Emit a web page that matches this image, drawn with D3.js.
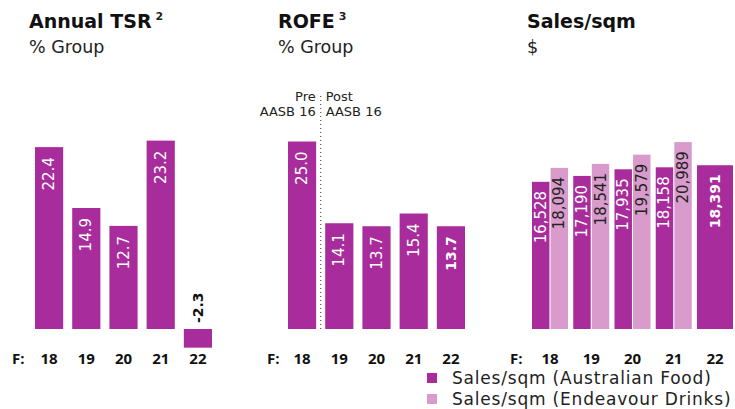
<!DOCTYPE html>
<meta charset="utf-8">
<script src="https://d3js.org/d3.v7.min.js"></script>
<style>
  body { margin: 0; background: #fff; }
  text { font-family: "DejaVu Sans", sans-serif; }
  text.tick-label { font-family: "Open Sans", sans-serif; }
</style>
<div id="chart"></div>
<script>
    const years = ["18", "19", "20", "21", "22"];
    const tsr = [22.4, 14.9, 12.7, 23.2, -2.3];
    const rofe = [25.0, 14.1, 13.7, 15.4, 13.7];
    const salesFood = [16528, 17190, 17935, 18158, 18391];
    const salesDrinks = [18094, 18541, 19579, 20989, null];
    const legendLabels = ["Sales/sqm (Australian Food)", "Sales/sqm (Endeavour Drinks)"];

    const dark = "#a82c9b", light = "#d89bcb";
    const width = 735, height = 409, base = 329;

    const svg = d3.select("#chart")
        .append("svg")
            .attr("width", width)
            .attr("height", height);

    // titles
    function title(x, main, sup, sub) {
        const t = svg.append("text")
            .attr("x", x).attr("y", 28)
            .attr("font-size", 19).attr("font-weight", 700).attr("fill", "#111")
            .text(main);
        if (sup) {
            const w = t.node().getComputedTextLength();
            svg.append("text")
                .attr("x", x + w + 4).attr("y", 20)
                .attr("font-size", 11).attr("font-weight", 700).attr("fill", "#222")
                .text(sup);
        }
        svg.append("text")
            .attr("x", x).attr("y", 53)
            .attr("font-size", 17.5).attr("fill", "#222")
            .text(sub);
    }
    title(29, "Annual TSR", "2", "% Group");
    title(278, "ROFE", "3", "% Group");
    title(527, "Sales/sqm", null, "$");

    function xAxis(x, fx) {
        const g = svg.append("g")
            .attr("transform", `translate(0,${359})`)
            .call(d3.axisBottom(x).tickSize(0).tickPadding(0));
        g.select(".domain").remove();
        g.selectAll("text")
            .attr("class", "tick-label")
            .attr("font-size", 15).attr("font-weight", 700).attr("fill", "#111")
            .attr("dy", "0.3em");
        svg.append("text")
            .attr("class", "tick-label")
            .attr("x", fx).attr("y", 359).attr("dy", "0.3em")
            .attr("font-size", 15).attr("font-weight", 700).attr("fill", "#111")
            .text("F:");
    }

    function rotLabel(cx, y, txt, opts) {
        svg.append("text")
            .attr("transform", `translate(${cx},${y}) rotate(-90)`)
            .attr("text-anchor", opts.anchor || "end")
            .attr("dominant-baseline", "central")
            .attr("font-size", opts.size || 15)
            .attr("font-weight", opts.bold ? 700 : 400)
            .attr("fill", opts.color || "#fff")
            .text(txt);
    }

    // panel 1: Annual TSR
    const x1 = d3.scaleBand().domain(years).range([35, 212]).paddingInner(0.243).paddingOuter(0);
    const y1 = d3.scaleLinear().domain([0, 25]).range([base, base - 25 * 8.12]);
    svg.append("g").selectAll("rect")
        .data(tsr)
        .join("rect")
            .attr("x", (d, i) => x1(years[i]))
            .attr("y", d => Math.min(y1(d), y1(0)))
            .attr("width", x1.bandwidth())
            .attr("height", d => Math.abs(y1(d) - y1(0)))
            .attr("fill", dark);
    tsr.forEach((d, i) => {
        const cx = x1(years[i]) + x1.bandwidth() / 2;
        if (d >= 0) rotLabel(cx, y1(d) + 10, d3.format(".1f")(d), {});
        else rotLabel(cx, y1(0) - 6, String(d), {anchor: "start", bold: true, color: "#111", size: 14});
    });
    xAxis(x1, 12);

    // panel 2: ROFE
    const x2 = d3.scaleBand().domain(years).range([288, 465]).paddingInner(0.243).paddingOuter(0);
    const y2 = d3.scaleLinear().domain([0, 25]).range([base, base - 25 * 7.5]);
    svg.append("g").selectAll("rect")
        .data(rofe)
        .join("rect")
            .attr("x", (d, i) => x2(years[i]))
            .attr("y", d => y2(d))
            .attr("width", x2.bandwidth())
            .attr("height", d => y2(0) - y2(d))
            .attr("fill", dark);
    rofe.forEach((d, i) => {
        const cx = x2(years[i]) + x2.bandwidth() / 2;
        const last = i === rofe.length - 1;
        rotLabel(cx, y2(d) + 10, d3.format(".1f")(d), {bold: last, size: last ? 14 : 15});
    });
    const sep = (x2(years[0]) + x2.bandwidth() + x2(years[1])) / 2;
    svg.append("line")
        .attr("x1", sep).attr("x2", sep)
        .attr("y1", 96).attr("y2", base)
        .attr("stroke", "#555").attr("stroke-width", 1.2)
        .attr("stroke-dasharray", "1,3");
    [["Pre", 101], ["AASB 16", 116]].forEach(([t, y]) => {
        svg.append("text").attr("x", sep - 5).attr("y", y)
            .attr("text-anchor", "end").attr("font-size", 13).attr("fill", "#222").text(t);
    });
    [["Post", 101], ["AASB 16", 116]].forEach(([t, y]) => {
        svg.append("text").attr("x", sep + 5).attr("y", y)
            .attr("font-size", 13).attr("fill", "#222").text(t);
    });
    xAxis(x2, 267);

    // panel 3: Sales/sqm
    const x3 = d3.scaleBand().domain(years).range([532, 733]).paddingInner(0.127).paddingOuter(0);
    const sub = d3.scaleBand().domain(["food", "drinks"]).range([0, x3.bandwidth()]).paddingInner(0.06);
    const y3 = d3.scaleLinear().domain([0, 21000]).range([base, base - 187]);
    const rows = years.map((yr, i) => ({yr, food: salesFood[i], drinks: salesDrinks[i]}));
    rows.forEach((r, i) => {
        const single = r.drinks == null;
        const bars = single ? [{k: "food", v: r.food}] : [{k: "food", v: r.food}, {k: "drinks", v: r.drinks}];
        bars.forEach(b => {
            const bx = single ? x3(r.yr) : x3(r.yr) + sub(b.k);
            const bw = single ? x3.bandwidth() : sub.bandwidth();
            svg.append("rect")
                .attr("x", bx).attr("y", y3(b.v))
                .attr("width", bw).attr("height", y3(0) - y3(b.v))
                .attr("fill", b.k === "food" ? dark : light);
            rotLabel(bx + bw / 2, y3(b.v) + 9, d3.format(",")(b.v),
                {color: b.k === "food" ? "#fff" : "#222", bold: single, size: single ? 14 : 15});
        });
    });
    xAxis(x3, 510);

    // legend
    const leg = svg.append("g");
    legendLabels.forEach((t, i) => {
        leg.append("rect")
            .attr("x", 427).attr("y", 373 + i * 21)
            .attr("width", 10).attr("height", 10)
            .attr("fill", i === 0 ? dark : light);
        leg.append("text")
            .attr("x", 452).attr("y", 378 + i * 21).attr("dy", "0.35em")
            .attr("font-size", 17).attr("letter-spacing", 0.8).attr("fill", "#222")
            .text(t);
    });
</script>
